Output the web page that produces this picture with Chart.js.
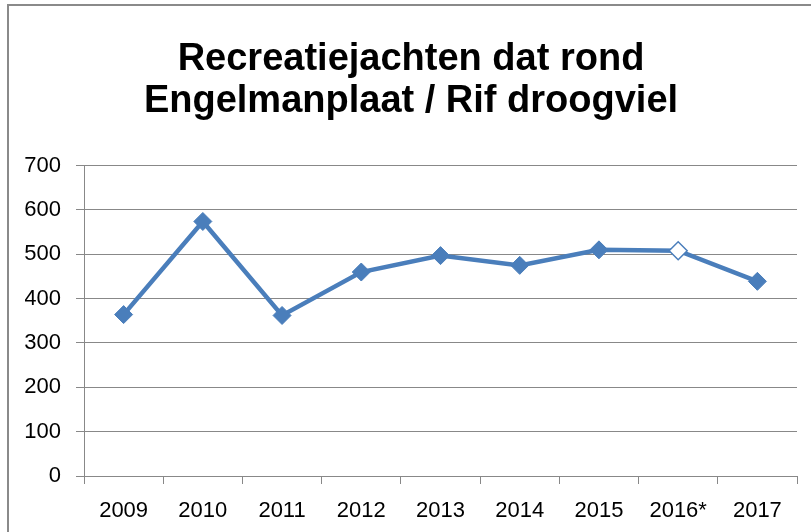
<!DOCTYPE html>
<html>
<head>
<meta charset="utf-8">
<script src="https://cdn.jsdelivr.net/npm/chart.js@4/dist/chart.umd.min.js"></script>
<style>
  html, body { margin: 0; padding: 0; background: #fff; }
  #wrap { width: 811px; height: 532px; position: relative; }
</style>
</head>
<body>
<div id="wrap"><canvas id="chart" width="811" height="532"></canvas></div>
<script>
// data
const titleLines = ['Recreatiejachten dat rond', 'Engelmanplaat / Rif droogviel'];
const years = ['2009', '2010', '2011', '2012', '2013', '2014', '2015', '2016*', '2017'];
const yachts = [364, 574, 362, 460, 497, 475, 510, 508, 439];
const estimated = [false, false, false, false, false, false, false, true, false]; // open marker
const yTicks = [0, 100, 200, 300, 400, 500, 600, 700];

const blue = '#4a7ebb';
const gridGrey = '#888888';

// grey frame round the chart, like the office export
const framePlugin = {
  id: 'frame',
  beforeDraw(chart) {
    const ctx = chart.ctx;
    ctx.save();
    ctx.fillStyle = '#fff';
    ctx.fillRect(0, 0, chart.width, chart.height);
    ctx.strokeStyle = '#8a8a8a';
    ctx.lineWidth = 2;
    ctx.strokeRect(8, 5, chart.width + 20, chart.height + 20);
    ctx.restore();
  }
};

new Chart(document.getElementById('chart'), {
  type: 'line',
  data: {
    labels: years,
    datasets: [{
      data: yachts,
      borderColor: blue,
      borderWidth: 4.5,
      tension: 0,
      pointStyle: 'rectRot',
      pointRadius: 9,
      pointHoverRadius: 9,
      pointBorderWidth: estimated.map(e => e ? 1.5 : 1),
      pointBorderColor: blue,
      pointBackgroundColor: estimated.map(e => e ? '#fff' : blue)
    }]
  },
  options: {
    responsive: false,
    animation: false,
    layout: { padding: { left: 25, right: 14, top: 0, bottom: 0 } },
    plugins: {
      legend: { display: false },
      tooltip: { enabled: false },
      title: {
        display: true,
        text: titleLines,
        color: '#000',
        font: { family: 'Liberation Sans', size: 38, weight: 'bold', lineHeight: 1.1 },
        padding: { top: 39, bottom: 43 }
      }
    },
    scales: {
      x: {
        offset: true,
        grid: { offset: true, drawOnChartArea: false, drawTicks: true, tickLength: 8, color: gridGrey },
        border: { color: gridGrey },
        ticks: { color: '#000', padding: 14, font: { family: 'Liberation Sans', size: 22 } },
        afterFit(scale) { scale.height = 56; }
      },
      y: {
        min: 0,
        max: 700,
        afterBuildTicks(scale) { scale.ticks = yTicks.map(v => ({ value: v })); },
        grid: { color: gridGrey, tickLength: 8 },
        border: { color: gridGrey },
        ticks: { color: '#000', padding: 15, font: { family: 'Liberation Sans', size: 22 } },
        afterFit(scale) { scale.width = 59; }
      }
    }
  },
  plugins: [framePlugin]
});
</script>
</body>
</html>
